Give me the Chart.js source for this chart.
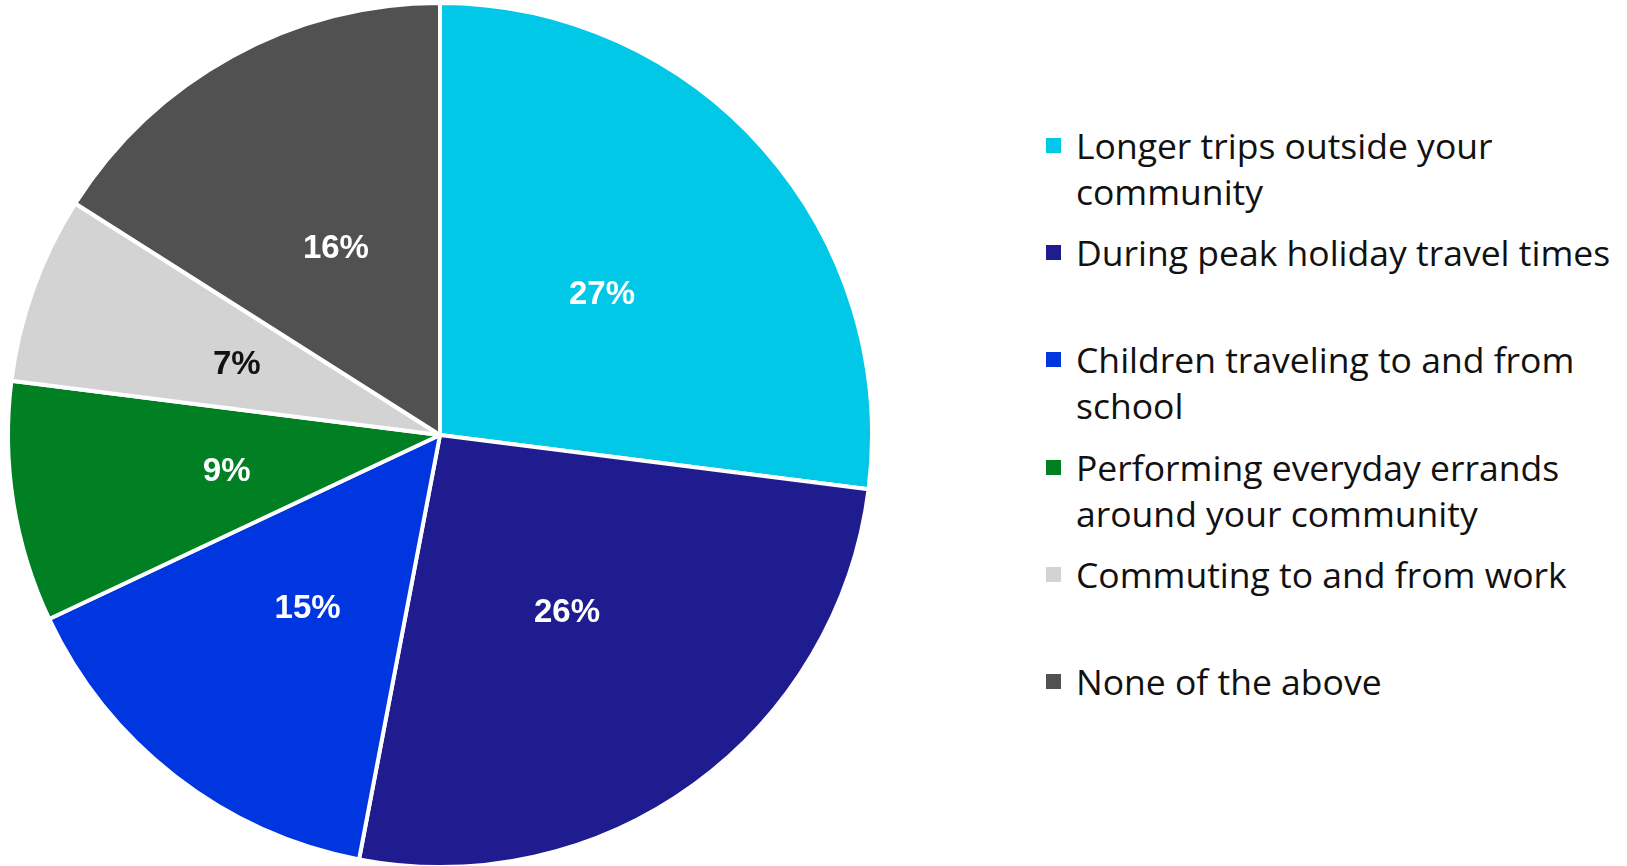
<!DOCTYPE html>
<html>
<head>
<meta charset="utf-8">
<script src="https://cdn.jsdelivr.net/npm/chart.js@4/dist/chart.umd.min.js"></script>
<style>
  html, body { margin: 0; padding: 0; background: #fff; }
  body { width: 1627px; height: 866px; position: relative; overflow: hidden; }
  #pieWrap { position: absolute; left: 0; top: 1px; width: 880px; height: 868px; }
  #legend { position: absolute; left: 1046px; top: 0; font-family: "Open Sans", Lato, sans-serif; font-size: 35.5px; font-weight: 500; color: #111; }
  .item { position: absolute; left: 0; white-space: nowrap; }
  .swatch { position: absolute; left: 0; width: 15px; height: 15px; }
  .text { position: absolute; left: 30px; line-height: 46px; }
</style>
</head>
<body>
<div id="pieWrap"><canvas id="pieChart"></canvas></div>
<div id="legend"></div>
<script>
// Pie chart - share of responses

const categories = [
  ['Longer trips outside your', 'community'],
  ['During peak holiday travel times'],
  ['Children traveling to and from', 'school'],
  ['Performing everyday errands', 'around your community'],
  ['Commuting to and from work'],
  ['None of the above']
];
const shares = [27, 26, 15, 9, 7, 16];
const sliceColors = ['#00C8E6', '#1F1C8F', '#0036E0', '#008022', '#D3D3D3', '#515151'];
const labelColors = ['#fff', '#fff', '#fff', '#fff', '#111', '#fff'];

// draw the % text in the middle of each slice
const sliceLabels = {
  id: 'sliceLabels',
  afterDatasetsDraw(chart) {
    const ctx = chart.ctx;
    const meta = chart.getDatasetMeta(0);
    ctx.save();
    ctx.font = 'bold 33px "Liberation Sans", Arial, sans-serif';
    ctx.textAlign = 'center';
    ctx.textBaseline = 'middle';
    meta.data.forEach((arc, i) => {
      const pos = arc.tooltipPosition();
      ctx.fillStyle = labelColors[i];
      ctx.fillText(shares[i] + '%', pos.x, pos.y + 3);
    });
    ctx.restore();
  }
};

new Chart(document.getElementById('pieChart'), {
  type: 'pie',
  data: {
    labels: categories,
    datasets: [{
      data: shares,
      backgroundColor: sliceColors,
      borderColor: '#ffffff',
      borderWidth: 4
    }]
  },
  options: {
    responsive: true,
    maintainAspectRatio: false,
    animation: false,
    layout: { padding: 0 },
    plugins: {
      legend: { display: false },
      tooltip: { enabled: false }
    }
  },
  plugins: [sliceLabels]
});

// Custom legend on the right
const legendEl = document.getElementById('legend');
const slotTop = 122;
const slotStep = 107.2;
categories.forEach((lines, i) => {
  const item = document.createElement('div');
  item.className = 'item';
  item.style.top = (slotTop + i * slotStep) + 'px';
  const sw = document.createElement('div');
  sw.className = 'swatch';
  sw.style.background = sliceColors[i];
  sw.style.top = '16px';
  const tx = document.createElement('div');
  tx.className = 'text';
  tx.innerHTML = lines.join('<br>');
  item.appendChild(sw);
  item.appendChild(tx);
  legendEl.appendChild(item);
});
</script>
</body>
</html>
